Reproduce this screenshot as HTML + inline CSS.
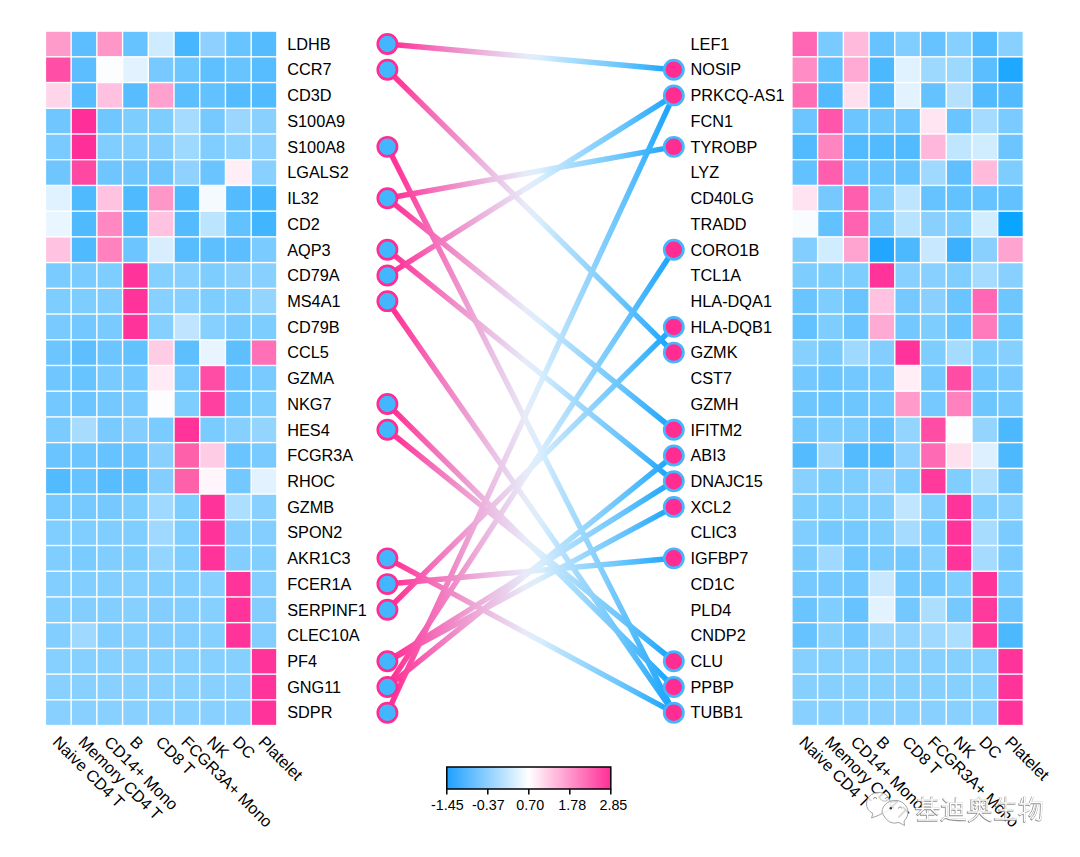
<!DOCTYPE html><html><head><meta charset="utf-8"><style>html,body{margin:0;padding:0;background:#fff;width:1080px;height:857px;overflow:hidden}svg{display:block}text{font-family:"Liberation Sans",sans-serif}</style></head><body>
<svg width="1080" height="857" viewBox="0 0 1080 857">
<defs><linearGradient id="lg" gradientUnits="userSpaceOnUse" x1="387.4" y1="0" x2="673.8" y2="0"><stop offset="0" stop-color="#FF2D95"/><stop offset="0.044" stop-color="#FF3A9A"/><stop offset="0.149" stop-color="#F56AB8"/><stop offset="0.253" stop-color="#EE95CC"/><stop offset="0.358" stop-color="#EBBDE2"/><stop offset="0.445" stop-color="#E8DCF2"/><stop offset="0.48" stop-color="#E8EAF8"/><stop offset="0.533" stop-color="#D8EEFC"/><stop offset="0.602" stop-color="#B8E2FC"/><stop offset="0.707" stop-color="#92D4FC"/><stop offset="0.812" stop-color="#6CC6FC"/><stop offset="0.916" stop-color="#3CB2FC"/><stop offset="0.969" stop-color="#22A8FC"/><stop offset="1" stop-color="#1AA4FF"/></linearGradient><linearGradient id="cb" x1="0" y1="0" x2="1" y2="0"><stop offset="0" stop-color="#1EA0FF"/><stop offset="0.5" stop-color="#FFFFFF"/><stop offset="1" stop-color="#FF2E98"/></linearGradient></defs>
<rect x="46.10" y="31.80" width="24.32" height="24.32" fill="#FF9BCB"/>
<rect x="71.82" y="31.80" width="24.32" height="24.32" fill="#5CBEFF"/>
<rect x="97.54" y="31.80" width="24.32" height="24.32" fill="#FF96C8"/>
<rect x="123.26" y="31.80" width="24.32" height="24.32" fill="#66C3FF"/>
<rect x="148.98" y="31.80" width="24.32" height="24.32" fill="#CFEBFF"/>
<rect x="174.70" y="31.80" width="24.32" height="24.32" fill="#45B6FF"/>
<rect x="200.42" y="31.80" width="24.32" height="24.32" fill="#8ED0FF"/>
<rect x="226.14" y="31.80" width="24.32" height="24.32" fill="#68C4FF"/>
<rect x="251.86" y="31.80" width="24.32" height="24.32" fill="#55BBFF"/>
<rect x="46.10" y="57.52" width="24.32" height="24.32" fill="#FF4EA5"/>
<rect x="71.82" y="57.52" width="24.32" height="24.32" fill="#5CBEFF"/>
<rect x="97.54" y="57.52" width="24.32" height="24.32" fill="#FCFDFF"/>
<rect x="123.26" y="57.52" width="24.32" height="24.32" fill="#E2F3FF"/>
<rect x="148.98" y="57.52" width="24.32" height="24.32" fill="#78C9FF"/>
<rect x="174.70" y="57.52" width="24.32" height="24.32" fill="#6EC6FF"/>
<rect x="200.42" y="57.52" width="24.32" height="24.32" fill="#5FC0FF"/>
<rect x="226.14" y="57.52" width="24.32" height="24.32" fill="#68C4FF"/>
<rect x="251.86" y="57.52" width="24.32" height="24.32" fill="#58BDFF"/>
<rect x="46.10" y="83.24" width="24.32" height="24.32" fill="#FFD5EA"/>
<rect x="71.82" y="83.24" width="24.32" height="24.32" fill="#58BDFF"/>
<rect x="97.54" y="83.24" width="24.32" height="24.32" fill="#FFC1E0"/>
<rect x="123.26" y="83.24" width="24.32" height="24.32" fill="#58BDFF"/>
<rect x="148.98" y="83.24" width="24.32" height="24.32" fill="#FFA0CF"/>
<rect x="174.70" y="83.24" width="24.32" height="24.32" fill="#5ABEFF"/>
<rect x="200.42" y="83.24" width="24.32" height="24.32" fill="#62C1FF"/>
<rect x="226.14" y="83.24" width="24.32" height="24.32" fill="#55BBFF"/>
<rect x="251.86" y="83.24" width="24.32" height="24.32" fill="#52BAFF"/>
<rect x="46.10" y="108.96" width="24.32" height="24.32" fill="#70C7FF"/>
<rect x="71.82" y="108.96" width="24.32" height="24.32" fill="#FF2E98"/>
<rect x="97.54" y="108.96" width="24.32" height="24.32" fill="#70C7FF"/>
<rect x="123.26" y="108.96" width="24.32" height="24.32" fill="#7ECDFF"/>
<rect x="148.98" y="108.96" width="24.32" height="24.32" fill="#7ECDFF"/>
<rect x="174.70" y="108.96" width="24.32" height="24.32" fill="#A5DBFF"/>
<rect x="200.42" y="108.96" width="24.32" height="24.32" fill="#75C9FF"/>
<rect x="226.14" y="108.96" width="24.32" height="24.32" fill="#9BD6FF"/>
<rect x="251.86" y="108.96" width="24.32" height="24.32" fill="#8AD0FF"/>
<rect x="46.10" y="134.68" width="24.32" height="24.32" fill="#78CAFF"/>
<rect x="71.82" y="134.68" width="24.32" height="24.32" fill="#FF2E98"/>
<rect x="97.54" y="134.68" width="24.32" height="24.32" fill="#80CDFF"/>
<rect x="123.26" y="134.68" width="24.32" height="24.32" fill="#82CEFF"/>
<rect x="148.98" y="134.68" width="24.32" height="24.32" fill="#84CEFF"/>
<rect x="174.70" y="134.68" width="24.32" height="24.32" fill="#9DD8FF"/>
<rect x="200.42" y="134.68" width="24.32" height="24.32" fill="#80CDFF"/>
<rect x="226.14" y="134.68" width="24.32" height="24.32" fill="#8ED2FF"/>
<rect x="251.86" y="134.68" width="24.32" height="24.32" fill="#8CD1FF"/>
<rect x="46.10" y="160.40" width="24.32" height="24.32" fill="#6FC6FF"/>
<rect x="71.82" y="160.40" width="24.32" height="24.32" fill="#FF48A2"/>
<rect x="97.54" y="160.40" width="24.32" height="24.32" fill="#6FC6FF"/>
<rect x="123.26" y="160.40" width="24.32" height="24.32" fill="#6FC6FF"/>
<rect x="148.98" y="160.40" width="24.32" height="24.32" fill="#6FC6FF"/>
<rect x="174.70" y="160.40" width="24.32" height="24.32" fill="#90D2FF"/>
<rect x="200.42" y="160.40" width="24.32" height="24.32" fill="#6AC4FF"/>
<rect x="226.14" y="160.40" width="24.32" height="24.32" fill="#FFEEF6"/>
<rect x="251.86" y="160.40" width="24.32" height="24.32" fill="#88D0FF"/>
<rect x="46.10" y="186.12" width="24.32" height="24.32" fill="#E0F2FF"/>
<rect x="71.82" y="186.12" width="24.32" height="24.32" fill="#50BAFF"/>
<rect x="97.54" y="186.12" width="24.32" height="24.32" fill="#FFC2E0"/>
<rect x="123.26" y="186.12" width="24.32" height="24.32" fill="#50BAFF"/>
<rect x="148.98" y="186.12" width="24.32" height="24.32" fill="#FF96C8"/>
<rect x="174.70" y="186.12" width="24.32" height="24.32" fill="#50BAFF"/>
<rect x="200.42" y="186.12" width="24.32" height="24.32" fill="#F5FAFF"/>
<rect x="226.14" y="186.12" width="24.32" height="24.32" fill="#55BBFF"/>
<rect x="251.86" y="186.12" width="24.32" height="24.32" fill="#46B6FF"/>
<rect x="46.10" y="211.84" width="24.32" height="24.32" fill="#EAF6FF"/>
<rect x="71.82" y="211.84" width="24.32" height="24.32" fill="#50BAFF"/>
<rect x="97.54" y="211.84" width="24.32" height="24.32" fill="#FF88C2"/>
<rect x="123.26" y="211.84" width="24.32" height="24.32" fill="#50BAFF"/>
<rect x="148.98" y="211.84" width="24.32" height="24.32" fill="#FFC2E0"/>
<rect x="174.70" y="211.84" width="24.32" height="24.32" fill="#55BBFF"/>
<rect x="200.42" y="211.84" width="24.32" height="24.32" fill="#BBE4FF"/>
<rect x="226.14" y="211.84" width="24.32" height="24.32" fill="#62C1FF"/>
<rect x="251.86" y="211.84" width="24.32" height="24.32" fill="#42B5FF"/>
<rect x="46.10" y="237.56" width="24.32" height="24.32" fill="#FFC2E0"/>
<rect x="71.82" y="237.56" width="24.32" height="24.32" fill="#50BAFF"/>
<rect x="97.54" y="237.56" width="24.32" height="24.32" fill="#FF82BF"/>
<rect x="123.26" y="237.56" width="24.32" height="24.32" fill="#6CC5FF"/>
<rect x="148.98" y="237.56" width="24.32" height="24.32" fill="#D8EEFF"/>
<rect x="174.70" y="237.56" width="24.32" height="24.32" fill="#58BDFF"/>
<rect x="200.42" y="237.56" width="24.32" height="24.32" fill="#5EBFFF"/>
<rect x="226.14" y="237.56" width="24.32" height="24.32" fill="#5CBEFF"/>
<rect x="251.86" y="237.56" width="24.32" height="24.32" fill="#7ACBFF"/>
<rect x="46.10" y="263.28" width="24.32" height="24.32" fill="#7ACBFF"/>
<rect x="71.82" y="263.28" width="24.32" height="24.32" fill="#7ACBFF"/>
<rect x="97.54" y="263.28" width="24.32" height="24.32" fill="#7ECDFF"/>
<rect x="123.26" y="263.28" width="24.32" height="24.32" fill="#FF3399"/>
<rect x="148.98" y="263.28" width="24.32" height="24.32" fill="#86D0FF"/>
<rect x="174.70" y="263.28" width="24.32" height="24.32" fill="#88D0FF"/>
<rect x="200.42" y="263.28" width="24.32" height="24.32" fill="#7ECDFF"/>
<rect x="226.14" y="263.28" width="24.32" height="24.32" fill="#8AD0FF"/>
<rect x="251.86" y="263.28" width="24.32" height="24.32" fill="#88D0FF"/>
<rect x="46.10" y="289.00" width="24.32" height="24.32" fill="#7ECDFF"/>
<rect x="71.82" y="289.00" width="24.32" height="24.32" fill="#7ECDFF"/>
<rect x="97.54" y="289.00" width="24.32" height="24.32" fill="#80CDFF"/>
<rect x="123.26" y="289.00" width="24.32" height="24.32" fill="#FF3399"/>
<rect x="148.98" y="289.00" width="24.32" height="24.32" fill="#88D0FF"/>
<rect x="174.70" y="289.00" width="24.32" height="24.32" fill="#88D0FF"/>
<rect x="200.42" y="289.00" width="24.32" height="24.32" fill="#7ECDFF"/>
<rect x="226.14" y="289.00" width="24.32" height="24.32" fill="#80CDFF"/>
<rect x="251.86" y="289.00" width="24.32" height="24.32" fill="#94D5FF"/>
<rect x="46.10" y="314.72" width="24.32" height="24.32" fill="#78CAFF"/>
<rect x="71.82" y="314.72" width="24.32" height="24.32" fill="#72C8FF"/>
<rect x="97.54" y="314.72" width="24.32" height="24.32" fill="#78CAFF"/>
<rect x="123.26" y="314.72" width="24.32" height="24.32" fill="#FF3399"/>
<rect x="148.98" y="314.72" width="24.32" height="24.32" fill="#86D0FF"/>
<rect x="174.70" y="314.72" width="24.32" height="24.32" fill="#BEE4FF"/>
<rect x="200.42" y="314.72" width="24.32" height="24.32" fill="#86D0FF"/>
<rect x="226.14" y="314.72" width="24.32" height="24.32" fill="#78CAFF"/>
<rect x="251.86" y="314.72" width="24.32" height="24.32" fill="#7ECDFF"/>
<rect x="46.10" y="340.44" width="24.32" height="24.32" fill="#6CC5FF"/>
<rect x="71.82" y="340.44" width="24.32" height="24.32" fill="#5EBFFF"/>
<rect x="97.54" y="340.44" width="24.32" height="24.32" fill="#6CC5FF"/>
<rect x="123.26" y="340.44" width="24.32" height="24.32" fill="#62C1FF"/>
<rect x="148.98" y="340.44" width="24.32" height="24.32" fill="#FFCCE6"/>
<rect x="174.70" y="340.44" width="24.32" height="24.32" fill="#5EBFFF"/>
<rect x="200.42" y="340.44" width="24.32" height="24.32" fill="#E8F5FF"/>
<rect x="226.14" y="340.44" width="24.32" height="24.32" fill="#5EBFFF"/>
<rect x="251.86" y="340.44" width="24.32" height="24.32" fill="#FF70B7"/>
<rect x="46.10" y="366.16" width="24.32" height="24.32" fill="#70C7FF"/>
<rect x="71.82" y="366.16" width="24.32" height="24.32" fill="#68C4FF"/>
<rect x="97.54" y="366.16" width="24.32" height="24.32" fill="#78CAFF"/>
<rect x="123.26" y="366.16" width="24.32" height="24.32" fill="#72C8FF"/>
<rect x="148.98" y="366.16" width="24.32" height="24.32" fill="#FFEBF5"/>
<rect x="174.70" y="366.16" width="24.32" height="24.32" fill="#76C9FF"/>
<rect x="200.42" y="366.16" width="24.32" height="24.32" fill="#FF4DA5"/>
<rect x="226.14" y="366.16" width="24.32" height="24.32" fill="#6AC4FF"/>
<rect x="251.86" y="366.16" width="24.32" height="24.32" fill="#78CAFF"/>
<rect x="46.10" y="391.88" width="24.32" height="24.32" fill="#72C8FF"/>
<rect x="71.82" y="391.88" width="24.32" height="24.32" fill="#6CC5FF"/>
<rect x="97.54" y="391.88" width="24.32" height="24.32" fill="#72C8FF"/>
<rect x="123.26" y="391.88" width="24.32" height="24.32" fill="#78CAFF"/>
<rect x="148.98" y="391.88" width="24.32" height="24.32" fill="#FDFDFF"/>
<rect x="174.70" y="391.88" width="24.32" height="24.32" fill="#7ECDFF"/>
<rect x="200.42" y="391.88" width="24.32" height="24.32" fill="#FF40A0"/>
<rect x="226.14" y="391.88" width="24.32" height="24.32" fill="#6CC5FF"/>
<rect x="251.86" y="391.88" width="24.32" height="24.32" fill="#7ECDFF"/>
<rect x="46.10" y="417.60" width="24.32" height="24.32" fill="#7ACBFF"/>
<rect x="71.82" y="417.60" width="24.32" height="24.32" fill="#A8DCFF"/>
<rect x="97.54" y="417.60" width="24.32" height="24.32" fill="#78CAFF"/>
<rect x="123.26" y="417.60" width="24.32" height="24.32" fill="#84CEFF"/>
<rect x="148.98" y="417.60" width="24.32" height="24.32" fill="#7ACBFF"/>
<rect x="174.70" y="417.60" width="24.32" height="24.32" fill="#FF3399"/>
<rect x="200.42" y="417.60" width="24.32" height="24.32" fill="#7ACBFF"/>
<rect x="226.14" y="417.60" width="24.32" height="24.32" fill="#86D0FF"/>
<rect x="251.86" y="417.60" width="24.32" height="24.32" fill="#94D5FF"/>
<rect x="46.10" y="443.32" width="24.32" height="24.32" fill="#6AC4FF"/>
<rect x="71.82" y="443.32" width="24.32" height="24.32" fill="#6CC5FF"/>
<rect x="97.54" y="443.32" width="24.32" height="24.32" fill="#66C3FF"/>
<rect x="123.26" y="443.32" width="24.32" height="24.32" fill="#6AC4FF"/>
<rect x="148.98" y="443.32" width="24.32" height="24.32" fill="#8AD0FF"/>
<rect x="174.70" y="443.32" width="24.32" height="24.32" fill="#FF60AA"/>
<rect x="200.42" y="443.32" width="24.32" height="24.32" fill="#FFCCE6"/>
<rect x="226.14" y="443.32" width="24.32" height="24.32" fill="#6AC4FF"/>
<rect x="251.86" y="443.32" width="24.32" height="24.32" fill="#78CAFF"/>
<rect x="46.10" y="469.04" width="24.32" height="24.32" fill="#52BAFF"/>
<rect x="71.82" y="469.04" width="24.32" height="24.32" fill="#66C3FF"/>
<rect x="97.54" y="469.04" width="24.32" height="24.32" fill="#58BDFF"/>
<rect x="123.26" y="469.04" width="24.32" height="24.32" fill="#5ABEFF"/>
<rect x="148.98" y="469.04" width="24.32" height="24.32" fill="#84CEFF"/>
<rect x="174.70" y="469.04" width="24.32" height="24.32" fill="#FF60AA"/>
<rect x="200.42" y="469.04" width="24.32" height="24.32" fill="#FFF5FA"/>
<rect x="226.14" y="469.04" width="24.32" height="24.32" fill="#72C8FF"/>
<rect x="251.86" y="469.04" width="24.32" height="24.32" fill="#E2F3FF"/>
<rect x="46.10" y="494.76" width="24.32" height="24.32" fill="#76C9FF"/>
<rect x="71.82" y="494.76" width="24.32" height="24.32" fill="#76C9FF"/>
<rect x="97.54" y="494.76" width="24.32" height="24.32" fill="#76C9FF"/>
<rect x="123.26" y="494.76" width="24.32" height="24.32" fill="#7ECDFF"/>
<rect x="148.98" y="494.76" width="24.32" height="24.32" fill="#A0D9FF"/>
<rect x="174.70" y="494.76" width="24.32" height="24.32" fill="#7ECDFF"/>
<rect x="200.42" y="494.76" width="24.32" height="24.32" fill="#FF3399"/>
<rect x="226.14" y="494.76" width="24.32" height="24.32" fill="#ABDEFF"/>
<rect x="251.86" y="494.76" width="24.32" height="24.32" fill="#88D0FF"/>
<rect x="46.10" y="520.48" width="24.32" height="24.32" fill="#80CDFF"/>
<rect x="71.82" y="520.48" width="24.32" height="24.32" fill="#80CDFF"/>
<rect x="97.54" y="520.48" width="24.32" height="24.32" fill="#80CDFF"/>
<rect x="123.26" y="520.48" width="24.32" height="24.32" fill="#80CDFF"/>
<rect x="148.98" y="520.48" width="24.32" height="24.32" fill="#A0D9FF"/>
<rect x="174.70" y="520.48" width="24.32" height="24.32" fill="#80CDFF"/>
<rect x="200.42" y="520.48" width="24.32" height="24.32" fill="#FF3399"/>
<rect x="226.14" y="520.48" width="24.32" height="24.32" fill="#84CEFF"/>
<rect x="251.86" y="520.48" width="24.32" height="24.32" fill="#84CEFF"/>
<rect x="46.10" y="546.20" width="24.32" height="24.32" fill="#80CDFF"/>
<rect x="71.82" y="546.20" width="24.32" height="24.32" fill="#7ACBFF"/>
<rect x="97.54" y="546.20" width="24.32" height="24.32" fill="#80CDFF"/>
<rect x="123.26" y="546.20" width="24.32" height="24.32" fill="#7ECDFF"/>
<rect x="148.98" y="546.20" width="24.32" height="24.32" fill="#94D5FF"/>
<rect x="174.70" y="546.20" width="24.32" height="24.32" fill="#80CDFF"/>
<rect x="200.42" y="546.20" width="24.32" height="24.32" fill="#FF3399"/>
<rect x="226.14" y="546.20" width="24.32" height="24.32" fill="#84CEFF"/>
<rect x="251.86" y="546.20" width="24.32" height="24.32" fill="#82CEFF"/>
<rect x="46.10" y="571.92" width="24.32" height="24.32" fill="#82CEFF"/>
<rect x="71.82" y="571.92" width="24.32" height="24.32" fill="#82CEFF"/>
<rect x="97.54" y="571.92" width="24.32" height="24.32" fill="#82CEFF"/>
<rect x="123.26" y="571.92" width="24.32" height="24.32" fill="#86D0FF"/>
<rect x="148.98" y="571.92" width="24.32" height="24.32" fill="#82CEFF"/>
<rect x="174.70" y="571.92" width="24.32" height="24.32" fill="#82CEFF"/>
<rect x="200.42" y="571.92" width="24.32" height="24.32" fill="#88D0FF"/>
<rect x="226.14" y="571.92" width="24.32" height="24.32" fill="#FF3399"/>
<rect x="251.86" y="571.92" width="24.32" height="24.32" fill="#84CEFF"/>
<rect x="46.10" y="597.64" width="24.32" height="24.32" fill="#82CEFF"/>
<rect x="71.82" y="597.64" width="24.32" height="24.32" fill="#84CEFF"/>
<rect x="97.54" y="597.64" width="24.32" height="24.32" fill="#82CEFF"/>
<rect x="123.26" y="597.64" width="24.32" height="24.32" fill="#86D0FF"/>
<rect x="148.98" y="597.64" width="24.32" height="24.32" fill="#84CEFF"/>
<rect x="174.70" y="597.64" width="24.32" height="24.32" fill="#84CEFF"/>
<rect x="200.42" y="597.64" width="24.32" height="24.32" fill="#86D0FF"/>
<rect x="226.14" y="597.64" width="24.32" height="24.32" fill="#FF3399"/>
<rect x="251.86" y="597.64" width="24.32" height="24.32" fill="#84CEFF"/>
<rect x="46.10" y="623.36" width="24.32" height="24.32" fill="#82CEFF"/>
<rect x="71.82" y="623.36" width="24.32" height="24.32" fill="#A0D9FF"/>
<rect x="97.54" y="623.36" width="24.32" height="24.32" fill="#82CEFF"/>
<rect x="123.26" y="623.36" width="24.32" height="24.32" fill="#86D0FF"/>
<rect x="148.98" y="623.36" width="24.32" height="24.32" fill="#84CEFF"/>
<rect x="174.70" y="623.36" width="24.32" height="24.32" fill="#84CEFF"/>
<rect x="200.42" y="623.36" width="24.32" height="24.32" fill="#86D0FF"/>
<rect x="226.14" y="623.36" width="24.32" height="24.32" fill="#FF3399"/>
<rect x="251.86" y="623.36" width="24.32" height="24.32" fill="#84CEFF"/>
<rect x="46.10" y="649.08" width="24.32" height="24.32" fill="#86D0FF"/>
<rect x="71.82" y="649.08" width="24.32" height="24.32" fill="#86D0FF"/>
<rect x="97.54" y="649.08" width="24.32" height="24.32" fill="#86D0FF"/>
<rect x="123.26" y="649.08" width="24.32" height="24.32" fill="#86D0FF"/>
<rect x="148.98" y="649.08" width="24.32" height="24.32" fill="#86D0FF"/>
<rect x="174.70" y="649.08" width="24.32" height="24.32" fill="#86D0FF"/>
<rect x="200.42" y="649.08" width="24.32" height="24.32" fill="#86D0FF"/>
<rect x="226.14" y="649.08" width="24.32" height="24.32" fill="#86D0FF"/>
<rect x="251.86" y="649.08" width="24.32" height="24.32" fill="#FF3399"/>
<rect x="46.10" y="674.80" width="24.32" height="24.32" fill="#88D0FF"/>
<rect x="71.82" y="674.80" width="24.32" height="24.32" fill="#88D0FF"/>
<rect x="97.54" y="674.80" width="24.32" height="24.32" fill="#88D0FF"/>
<rect x="123.26" y="674.80" width="24.32" height="24.32" fill="#88D0FF"/>
<rect x="148.98" y="674.80" width="24.32" height="24.32" fill="#88D0FF"/>
<rect x="174.70" y="674.80" width="24.32" height="24.32" fill="#88D0FF"/>
<rect x="200.42" y="674.80" width="24.32" height="24.32" fill="#88D0FF"/>
<rect x="226.14" y="674.80" width="24.32" height="24.32" fill="#88D0FF"/>
<rect x="251.86" y="674.80" width="24.32" height="24.32" fill="#FF3399"/>
<rect x="46.10" y="700.52" width="24.32" height="24.32" fill="#88D0FF"/>
<rect x="71.82" y="700.52" width="24.32" height="24.32" fill="#88D0FF"/>
<rect x="97.54" y="700.52" width="24.32" height="24.32" fill="#88D0FF"/>
<rect x="123.26" y="700.52" width="24.32" height="24.32" fill="#88D0FF"/>
<rect x="148.98" y="700.52" width="24.32" height="24.32" fill="#88D0FF"/>
<rect x="174.70" y="700.52" width="24.32" height="24.32" fill="#88D0FF"/>
<rect x="200.42" y="700.52" width="24.32" height="24.32" fill="#88D0FF"/>
<rect x="226.14" y="700.52" width="24.32" height="24.32" fill="#88D0FF"/>
<rect x="251.86" y="700.52" width="24.32" height="24.32" fill="#FF3399"/>
<rect x="792.60" y="31.80" width="24.32" height="24.32" fill="#FF66B3"/>
<rect x="818.32" y="31.80" width="24.32" height="24.32" fill="#78CAFF"/>
<rect x="844.04" y="31.80" width="24.32" height="24.32" fill="#FFBADC"/>
<rect x="869.76" y="31.80" width="24.32" height="24.32" fill="#66C3FF"/>
<rect x="895.48" y="31.80" width="24.32" height="24.32" fill="#80CDFF"/>
<rect x="921.20" y="31.80" width="24.32" height="24.32" fill="#66C3FF"/>
<rect x="946.92" y="31.80" width="24.32" height="24.32" fill="#86D0FF"/>
<rect x="972.64" y="31.80" width="24.32" height="24.32" fill="#52BAFF"/>
<rect x="998.36" y="31.80" width="24.32" height="24.32" fill="#88D0FF"/>
<rect x="792.60" y="57.52" width="24.32" height="24.32" fill="#FF8CC4"/>
<rect x="818.32" y="57.52" width="24.32" height="24.32" fill="#62C1FF"/>
<rect x="844.04" y="57.52" width="24.32" height="24.32" fill="#FFAAD4"/>
<rect x="869.76" y="57.52" width="24.32" height="24.32" fill="#4CB9FF"/>
<rect x="895.48" y="57.52" width="24.32" height="24.32" fill="#E0F2FF"/>
<rect x="921.20" y="57.52" width="24.32" height="24.32" fill="#9DD8FF"/>
<rect x="946.92" y="57.52" width="24.32" height="24.32" fill="#9DD8FF"/>
<rect x="972.64" y="57.52" width="24.32" height="24.32" fill="#5ABEFF"/>
<rect x="998.36" y="57.52" width="24.32" height="24.32" fill="#1EA8FF"/>
<rect x="792.60" y="83.24" width="24.32" height="24.32" fill="#FF6EB5"/>
<rect x="818.32" y="83.24" width="24.32" height="24.32" fill="#52BAFF"/>
<rect x="844.04" y="83.24" width="24.32" height="24.32" fill="#FFE0EF"/>
<rect x="869.76" y="83.24" width="24.32" height="24.32" fill="#55BBFF"/>
<rect x="895.48" y="83.24" width="24.32" height="24.32" fill="#E2F3FF"/>
<rect x="921.20" y="83.24" width="24.32" height="24.32" fill="#64C2FF"/>
<rect x="946.92" y="83.24" width="24.32" height="24.32" fill="#B5E1FF"/>
<rect x="972.64" y="83.24" width="24.32" height="24.32" fill="#52BAFF"/>
<rect x="998.36" y="83.24" width="24.32" height="24.32" fill="#52BAFF"/>
<rect x="792.60" y="108.96" width="24.32" height="24.32" fill="#6CC5FF"/>
<rect x="818.32" y="108.96" width="24.32" height="24.32" fill="#FF55AA"/>
<rect x="844.04" y="108.96" width="24.32" height="24.32" fill="#6CC5FF"/>
<rect x="869.76" y="108.96" width="24.32" height="24.32" fill="#6CC5FF"/>
<rect x="895.48" y="108.96" width="24.32" height="24.32" fill="#6CC5FF"/>
<rect x="921.20" y="108.96" width="24.32" height="24.32" fill="#FFE5F2"/>
<rect x="946.92" y="108.96" width="24.32" height="24.32" fill="#6AC4FF"/>
<rect x="972.64" y="108.96" width="24.32" height="24.32" fill="#A5DBFF"/>
<rect x="998.36" y="108.96" width="24.32" height="24.32" fill="#7ACBFF"/>
<rect x="792.60" y="134.68" width="24.32" height="24.32" fill="#52BAFF"/>
<rect x="818.32" y="134.68" width="24.32" height="24.32" fill="#FF85C0"/>
<rect x="844.04" y="134.68" width="24.32" height="24.32" fill="#52BAFF"/>
<rect x="869.76" y="134.68" width="24.32" height="24.32" fill="#52BAFF"/>
<rect x="895.48" y="134.68" width="24.32" height="24.32" fill="#52BAFF"/>
<rect x="921.20" y="134.68" width="24.32" height="24.32" fill="#FFB8DC"/>
<rect x="946.92" y="134.68" width="24.32" height="24.32" fill="#C0E6FF"/>
<rect x="972.64" y="134.68" width="24.32" height="24.32" fill="#D0ECFF"/>
<rect x="998.36" y="134.68" width="24.32" height="24.32" fill="#6CC5FF"/>
<rect x="792.60" y="160.40" width="24.32" height="24.32" fill="#62C1FF"/>
<rect x="818.32" y="160.40" width="24.32" height="24.32" fill="#FF5EAE"/>
<rect x="844.04" y="160.40" width="24.32" height="24.32" fill="#66C3FF"/>
<rect x="869.76" y="160.40" width="24.32" height="24.32" fill="#66C3FF"/>
<rect x="895.48" y="160.40" width="24.32" height="24.32" fill="#66C3FF"/>
<rect x="921.20" y="160.40" width="24.32" height="24.32" fill="#A0D9FF"/>
<rect x="946.92" y="160.40" width="24.32" height="24.32" fill="#60C0FF"/>
<rect x="972.64" y="160.40" width="24.32" height="24.32" fill="#FFBADC"/>
<rect x="998.36" y="160.40" width="24.32" height="24.32" fill="#7ECDFF"/>
<rect x="792.60" y="186.12" width="24.32" height="24.32" fill="#FFE3F1"/>
<rect x="818.32" y="186.12" width="24.32" height="24.32" fill="#75C9FF"/>
<rect x="844.04" y="186.12" width="24.32" height="24.32" fill="#FF5EAE"/>
<rect x="869.76" y="186.12" width="24.32" height="24.32" fill="#7ECDFF"/>
<rect x="895.48" y="186.12" width="24.32" height="24.32" fill="#BDE5FF"/>
<rect x="921.20" y="186.12" width="24.32" height="24.32" fill="#66C3FF"/>
<rect x="946.92" y="186.12" width="24.32" height="24.32" fill="#62C1FF"/>
<rect x="972.64" y="186.12" width="24.32" height="24.32" fill="#66C3FF"/>
<rect x="998.36" y="186.12" width="24.32" height="24.32" fill="#62C1FF"/>
<rect x="792.60" y="211.84" width="24.32" height="24.32" fill="#F8FCFF"/>
<rect x="818.32" y="211.84" width="24.32" height="24.32" fill="#62C1FF"/>
<rect x="844.04" y="211.84" width="24.32" height="24.32" fill="#FF62B0"/>
<rect x="869.76" y="211.84" width="24.32" height="24.32" fill="#72C8FF"/>
<rect x="895.48" y="211.84" width="24.32" height="24.32" fill="#B8E3FF"/>
<rect x="921.20" y="211.84" width="24.32" height="24.32" fill="#8AD0FF"/>
<rect x="946.92" y="211.84" width="24.32" height="24.32" fill="#80CDFF"/>
<rect x="972.64" y="211.84" width="24.32" height="24.32" fill="#D2EDFF"/>
<rect x="998.36" y="211.84" width="24.32" height="24.32" fill="#0AA5FF"/>
<rect x="792.60" y="237.56" width="24.32" height="24.32" fill="#82CEFF"/>
<rect x="818.32" y="237.56" width="24.32" height="24.32" fill="#D0ECFF"/>
<rect x="844.04" y="237.56" width="24.32" height="24.32" fill="#FFA4D1"/>
<rect x="869.76" y="237.56" width="24.32" height="24.32" fill="#22A6FF"/>
<rect x="895.48" y="237.56" width="24.32" height="24.32" fill="#4CB9FF"/>
<rect x="921.20" y="237.56" width="24.32" height="24.32" fill="#C8E8FF"/>
<rect x="946.92" y="237.56" width="24.32" height="24.32" fill="#3AB0FF"/>
<rect x="972.64" y="237.56" width="24.32" height="24.32" fill="#8AD0FF"/>
<rect x="998.36" y="237.56" width="24.32" height="24.32" fill="#FFA4D1"/>
<rect x="792.60" y="263.28" width="24.32" height="24.32" fill="#7ECDFF"/>
<rect x="818.32" y="263.28" width="24.32" height="24.32" fill="#7ECDFF"/>
<rect x="844.04" y="263.28" width="24.32" height="24.32" fill="#7ECDFF"/>
<rect x="869.76" y="263.28" width="24.32" height="24.32" fill="#FF3399"/>
<rect x="895.48" y="263.28" width="24.32" height="24.32" fill="#88D0FF"/>
<rect x="921.20" y="263.28" width="24.32" height="24.32" fill="#88D0FF"/>
<rect x="946.92" y="263.28" width="24.32" height="24.32" fill="#80CDFF"/>
<rect x="972.64" y="263.28" width="24.32" height="24.32" fill="#A5DBFF"/>
<rect x="998.36" y="263.28" width="24.32" height="24.32" fill="#88D0FF"/>
<rect x="792.60" y="289.00" width="24.32" height="24.32" fill="#6AC4FF"/>
<rect x="818.32" y="289.00" width="24.32" height="24.32" fill="#7ECDFF"/>
<rect x="844.04" y="289.00" width="24.32" height="24.32" fill="#6AC4FF"/>
<rect x="869.76" y="289.00" width="24.32" height="24.32" fill="#FFC2E0"/>
<rect x="895.48" y="289.00" width="24.32" height="24.32" fill="#76C9FF"/>
<rect x="921.20" y="289.00" width="24.32" height="24.32" fill="#8AD0FF"/>
<rect x="946.92" y="289.00" width="24.32" height="24.32" fill="#6AC4FF"/>
<rect x="972.64" y="289.00" width="24.32" height="24.32" fill="#FF66B3"/>
<rect x="998.36" y="289.00" width="24.32" height="24.32" fill="#6EC6FF"/>
<rect x="792.60" y="314.72" width="24.32" height="24.32" fill="#62C1FF"/>
<rect x="818.32" y="314.72" width="24.32" height="24.32" fill="#7ECDFF"/>
<rect x="844.04" y="314.72" width="24.32" height="24.32" fill="#6AC4FF"/>
<rect x="869.76" y="314.72" width="24.32" height="24.32" fill="#FFAAD4"/>
<rect x="895.48" y="314.72" width="24.32" height="24.32" fill="#72C8FF"/>
<rect x="921.20" y="314.72" width="24.32" height="24.32" fill="#7ECDFF"/>
<rect x="946.92" y="314.72" width="24.32" height="24.32" fill="#6AC4FF"/>
<rect x="972.64" y="314.72" width="24.32" height="24.32" fill="#FF7ABD"/>
<rect x="998.36" y="314.72" width="24.32" height="24.32" fill="#6EC6FF"/>
<rect x="792.60" y="340.44" width="24.32" height="24.32" fill="#86D0FF"/>
<rect x="818.32" y="340.44" width="24.32" height="24.32" fill="#78CAFF"/>
<rect x="844.04" y="340.44" width="24.32" height="24.32" fill="#A0D9FF"/>
<rect x="869.76" y="340.44" width="24.32" height="24.32" fill="#84CEFF"/>
<rect x="895.48" y="340.44" width="24.32" height="24.32" fill="#FF3399"/>
<rect x="921.20" y="340.44" width="24.32" height="24.32" fill="#7ECDFF"/>
<rect x="946.92" y="340.44" width="24.32" height="24.32" fill="#A5DBFF"/>
<rect x="972.64" y="340.44" width="24.32" height="24.32" fill="#7ECDFF"/>
<rect x="998.36" y="340.44" width="24.32" height="24.32" fill="#86D0FF"/>
<rect x="792.60" y="366.16" width="24.32" height="24.32" fill="#72C8FF"/>
<rect x="818.32" y="366.16" width="24.32" height="24.32" fill="#6CC5FF"/>
<rect x="844.04" y="366.16" width="24.32" height="24.32" fill="#72C8FF"/>
<rect x="869.76" y="366.16" width="24.32" height="24.32" fill="#76C9FF"/>
<rect x="895.48" y="366.16" width="24.32" height="24.32" fill="#FFEEF6"/>
<rect x="921.20" y="366.16" width="24.32" height="24.32" fill="#76C9FF"/>
<rect x="946.92" y="366.16" width="24.32" height="24.32" fill="#FF4DA5"/>
<rect x="972.64" y="366.16" width="24.32" height="24.32" fill="#72C8FF"/>
<rect x="998.36" y="366.16" width="24.32" height="24.32" fill="#78CAFF"/>
<rect x="792.60" y="391.88" width="24.32" height="24.32" fill="#6EC6FF"/>
<rect x="818.32" y="391.88" width="24.32" height="24.32" fill="#6AC4FF"/>
<rect x="844.04" y="391.88" width="24.32" height="24.32" fill="#6EC6FF"/>
<rect x="869.76" y="391.88" width="24.32" height="24.32" fill="#72C8FF"/>
<rect x="895.48" y="391.88" width="24.32" height="24.32" fill="#FF9ACB"/>
<rect x="921.20" y="391.88" width="24.32" height="24.32" fill="#76C9FF"/>
<rect x="946.92" y="391.88" width="24.32" height="24.32" fill="#FF82BF"/>
<rect x="972.64" y="391.88" width="24.32" height="24.32" fill="#6EC6FF"/>
<rect x="998.36" y="391.88" width="24.32" height="24.32" fill="#72C8FF"/>
<rect x="792.60" y="417.60" width="24.32" height="24.32" fill="#72C8FF"/>
<rect x="818.32" y="417.60" width="24.32" height="24.32" fill="#7ECDFF"/>
<rect x="844.04" y="417.60" width="24.32" height="24.32" fill="#7ACBFF"/>
<rect x="869.76" y="417.60" width="24.32" height="24.32" fill="#66C3FF"/>
<rect x="895.48" y="417.60" width="24.32" height="24.32" fill="#94D5FF"/>
<rect x="921.20" y="417.60" width="24.32" height="24.32" fill="#FF4DA5"/>
<rect x="946.92" y="417.60" width="24.32" height="24.32" fill="#FCFDFF"/>
<rect x="972.64" y="417.60" width="24.32" height="24.32" fill="#94D5FF"/>
<rect x="998.36" y="417.60" width="24.32" height="24.32" fill="#4CB9FF"/>
<rect x="792.60" y="443.32" width="24.32" height="24.32" fill="#55BBFF"/>
<rect x="818.32" y="443.32" width="24.32" height="24.32" fill="#96D5FF"/>
<rect x="844.04" y="443.32" width="24.32" height="24.32" fill="#55BBFF"/>
<rect x="869.76" y="443.32" width="24.32" height="24.32" fill="#52BAFF"/>
<rect x="895.48" y="443.32" width="24.32" height="24.32" fill="#90D2FF"/>
<rect x="921.20" y="443.32" width="24.32" height="24.32" fill="#FF6AB5"/>
<rect x="946.92" y="443.32" width="24.32" height="24.32" fill="#FFE0EF"/>
<rect x="972.64" y="443.32" width="24.32" height="24.32" fill="#DCF0FF"/>
<rect x="998.36" y="443.32" width="24.32" height="24.32" fill="#4CB9FF"/>
<rect x="792.60" y="469.04" width="24.32" height="24.32" fill="#88D0FF"/>
<rect x="818.32" y="469.04" width="24.32" height="24.32" fill="#7ECDFF"/>
<rect x="844.04" y="469.04" width="24.32" height="24.32" fill="#7ECDFF"/>
<rect x="869.76" y="469.04" width="24.32" height="24.32" fill="#90D2FF"/>
<rect x="895.48" y="469.04" width="24.32" height="24.32" fill="#80CDFF"/>
<rect x="921.20" y="469.04" width="24.32" height="24.32" fill="#FF3A9C"/>
<rect x="946.92" y="469.04" width="24.32" height="24.32" fill="#80CDFF"/>
<rect x="972.64" y="469.04" width="24.32" height="24.32" fill="#B0E0FF"/>
<rect x="998.36" y="469.04" width="24.32" height="24.32" fill="#66C3FF"/>
<rect x="792.60" y="494.76" width="24.32" height="24.32" fill="#7ECDFF"/>
<rect x="818.32" y="494.76" width="24.32" height="24.32" fill="#7ECDFF"/>
<rect x="844.04" y="494.76" width="24.32" height="24.32" fill="#80CDFF"/>
<rect x="869.76" y="494.76" width="24.32" height="24.32" fill="#82CEFF"/>
<rect x="895.48" y="494.76" width="24.32" height="24.32" fill="#C0E6FF"/>
<rect x="921.20" y="494.76" width="24.32" height="24.32" fill="#84CEFF"/>
<rect x="946.92" y="494.76" width="24.32" height="24.32" fill="#FF3399"/>
<rect x="972.64" y="494.76" width="24.32" height="24.32" fill="#82CEFF"/>
<rect x="998.36" y="494.76" width="24.32" height="24.32" fill="#88D0FF"/>
<rect x="792.60" y="520.48" width="24.32" height="24.32" fill="#80CDFF"/>
<rect x="818.32" y="520.48" width="24.32" height="24.32" fill="#76C9FF"/>
<rect x="844.04" y="520.48" width="24.32" height="24.32" fill="#76C9FF"/>
<rect x="869.76" y="520.48" width="24.32" height="24.32" fill="#7ECDFF"/>
<rect x="895.48" y="520.48" width="24.32" height="24.32" fill="#A5DBFF"/>
<rect x="921.20" y="520.48" width="24.32" height="24.32" fill="#7ACBFF"/>
<rect x="946.92" y="520.48" width="24.32" height="24.32" fill="#FF3399"/>
<rect x="972.64" y="520.48" width="24.32" height="24.32" fill="#A8DCFF"/>
<rect x="998.36" y="520.48" width="24.32" height="24.32" fill="#7ACBFF"/>
<rect x="792.60" y="546.20" width="24.32" height="24.32" fill="#78CAFF"/>
<rect x="818.32" y="546.20" width="24.32" height="24.32" fill="#A0D9FF"/>
<rect x="844.04" y="546.20" width="24.32" height="24.32" fill="#70C7FF"/>
<rect x="869.76" y="546.20" width="24.32" height="24.32" fill="#78CAFF"/>
<rect x="895.48" y="546.20" width="24.32" height="24.32" fill="#72C8FF"/>
<rect x="921.20" y="546.20" width="24.32" height="24.32" fill="#86D0FF"/>
<rect x="946.92" y="546.20" width="24.32" height="24.32" fill="#FF3399"/>
<rect x="972.64" y="546.20" width="24.32" height="24.32" fill="#A5DBFF"/>
<rect x="998.36" y="546.20" width="24.32" height="24.32" fill="#7ACBFF"/>
<rect x="792.60" y="571.92" width="24.32" height="24.32" fill="#76C9FF"/>
<rect x="818.32" y="571.92" width="24.32" height="24.32" fill="#76C9FF"/>
<rect x="844.04" y="571.92" width="24.32" height="24.32" fill="#70C7FF"/>
<rect x="869.76" y="571.92" width="24.32" height="24.32" fill="#C8E8FF"/>
<rect x="895.48" y="571.92" width="24.32" height="24.32" fill="#72C8FF"/>
<rect x="921.20" y="571.92" width="24.32" height="24.32" fill="#72C8FF"/>
<rect x="946.92" y="571.92" width="24.32" height="24.32" fill="#80CDFF"/>
<rect x="972.64" y="571.92" width="24.32" height="24.32" fill="#FF3399"/>
<rect x="998.36" y="571.92" width="24.32" height="24.32" fill="#7ACBFF"/>
<rect x="792.60" y="597.64" width="24.32" height="24.32" fill="#6AC4FF"/>
<rect x="818.32" y="597.64" width="24.32" height="24.32" fill="#80CDFF"/>
<rect x="844.04" y="597.64" width="24.32" height="24.32" fill="#66C3FF"/>
<rect x="869.76" y="597.64" width="24.32" height="24.32" fill="#E2F3FF"/>
<rect x="895.48" y="597.64" width="24.32" height="24.32" fill="#72C8FF"/>
<rect x="921.20" y="597.64" width="24.32" height="24.32" fill="#ACDEFF"/>
<rect x="946.92" y="597.64" width="24.32" height="24.32" fill="#76C9FF"/>
<rect x="972.64" y="597.64" width="24.32" height="24.32" fill="#FF3A9C"/>
<rect x="998.36" y="597.64" width="24.32" height="24.32" fill="#6CC5FF"/>
<rect x="792.60" y="623.36" width="24.32" height="24.32" fill="#66C3FF"/>
<rect x="818.32" y="623.36" width="24.32" height="24.32" fill="#86D0FF"/>
<rect x="844.04" y="623.36" width="24.32" height="24.32" fill="#72C8FF"/>
<rect x="869.76" y="623.36" width="24.32" height="24.32" fill="#98D6FF"/>
<rect x="895.48" y="623.36" width="24.32" height="24.32" fill="#94D5FF"/>
<rect x="921.20" y="623.36" width="24.32" height="24.32" fill="#A0D9FF"/>
<rect x="946.92" y="623.36" width="24.32" height="24.32" fill="#ACDEFF"/>
<rect x="972.64" y="623.36" width="24.32" height="24.32" fill="#FF3A9C"/>
<rect x="998.36" y="623.36" width="24.32" height="24.32" fill="#4CB9FF"/>
<rect x="792.60" y="649.08" width="24.32" height="24.32" fill="#86D0FF"/>
<rect x="818.32" y="649.08" width="24.32" height="24.32" fill="#86D0FF"/>
<rect x="844.04" y="649.08" width="24.32" height="24.32" fill="#86D0FF"/>
<rect x="869.76" y="649.08" width="24.32" height="24.32" fill="#86D0FF"/>
<rect x="895.48" y="649.08" width="24.32" height="24.32" fill="#86D0FF"/>
<rect x="921.20" y="649.08" width="24.32" height="24.32" fill="#86D0FF"/>
<rect x="946.92" y="649.08" width="24.32" height="24.32" fill="#86D0FF"/>
<rect x="972.64" y="649.08" width="24.32" height="24.32" fill="#86D0FF"/>
<rect x="998.36" y="649.08" width="24.32" height="24.32" fill="#FF3399"/>
<rect x="792.60" y="674.80" width="24.32" height="24.32" fill="#86D0FF"/>
<rect x="818.32" y="674.80" width="24.32" height="24.32" fill="#86D0FF"/>
<rect x="844.04" y="674.80" width="24.32" height="24.32" fill="#86D0FF"/>
<rect x="869.76" y="674.80" width="24.32" height="24.32" fill="#86D0FF"/>
<rect x="895.48" y="674.80" width="24.32" height="24.32" fill="#86D0FF"/>
<rect x="921.20" y="674.80" width="24.32" height="24.32" fill="#86D0FF"/>
<rect x="946.92" y="674.80" width="24.32" height="24.32" fill="#86D0FF"/>
<rect x="972.64" y="674.80" width="24.32" height="24.32" fill="#86D0FF"/>
<rect x="998.36" y="674.80" width="24.32" height="24.32" fill="#FF3399"/>
<rect x="792.60" y="700.52" width="24.32" height="24.32" fill="#88D0FF"/>
<rect x="818.32" y="700.52" width="24.32" height="24.32" fill="#88D0FF"/>
<rect x="844.04" y="700.52" width="24.32" height="24.32" fill="#88D0FF"/>
<rect x="869.76" y="700.52" width="24.32" height="24.32" fill="#88D0FF"/>
<rect x="895.48" y="700.52" width="24.32" height="24.32" fill="#88D0FF"/>
<rect x="921.20" y="700.52" width="24.32" height="24.32" fill="#88D0FF"/>
<rect x="946.92" y="700.52" width="24.32" height="24.32" fill="#88D0FF"/>
<rect x="972.64" y="700.52" width="24.32" height="24.32" fill="#88D0FF"/>
<rect x="998.36" y="700.52" width="24.32" height="24.32" fill="#FF3399"/>
<g font-size="16.3" fill="#000">
<text x="287.2" y="49.76">LDHB</text>
<text x="287.2" y="75.48">CCR7</text>
<text x="287.2" y="101.20">CD3D</text>
<text x="287.2" y="126.92">S100A9</text>
<text x="287.2" y="152.64">S100A8</text>
<text x="287.2" y="178.36">LGALS2</text>
<text x="287.2" y="204.08">IL32</text>
<text x="287.2" y="229.80">CD2</text>
<text x="287.2" y="255.52">AQP3</text>
<text x="287.2" y="281.24">CD79A</text>
<text x="287.2" y="306.96">MS4A1</text>
<text x="287.2" y="332.68">CD79B</text>
<text x="287.2" y="358.40">CCL5</text>
<text x="287.2" y="384.12">GZMA</text>
<text x="287.2" y="409.84">NKG7</text>
<text x="287.2" y="435.56">HES4</text>
<text x="287.2" y="461.28">FCGR3A</text>
<text x="287.2" y="487.00">RHOC</text>
<text x="287.2" y="512.72">GZMB</text>
<text x="287.2" y="538.44">SPON2</text>
<text x="287.2" y="564.16">AKR1C3</text>
<text x="287.2" y="589.88">FCER1A</text>
<text x="287.2" y="615.60">SERPINF1</text>
<text x="287.2" y="641.32">CLEC10A</text>
<text x="287.2" y="667.04">PF4</text>
<text x="287.2" y="692.76">GNG11</text>
<text x="287.2" y="718.48">SDPR</text>
<text x="690.5" y="49.76">LEF1</text>
<text x="690.5" y="75.48">NOSIP</text>
<text x="690.5" y="101.20">PRKCQ-AS1</text>
<text x="690.5" y="126.92">FCN1</text>
<text x="690.5" y="152.64">TYROBP</text>
<text x="690.5" y="178.36">LYZ</text>
<text x="690.5" y="204.08">CD40LG</text>
<text x="690.5" y="229.80">TRADD</text>
<text x="690.5" y="255.52">CORO1B</text>
<text x="690.5" y="281.24">TCL1A</text>
<text x="690.5" y="306.96">HLA-DQA1</text>
<text x="690.5" y="332.68">HLA-DQB1</text>
<text x="690.5" y="358.40">GZMK</text>
<text x="690.5" y="384.12">CST7</text>
<text x="690.5" y="409.84">GZMH</text>
<text x="690.5" y="435.56">IFITM2</text>
<text x="690.5" y="461.28">ABI3</text>
<text x="690.5" y="487.00">DNAJC15</text>
<text x="690.5" y="512.72">XCL2</text>
<text x="690.5" y="538.44">CLIC3</text>
<text x="690.5" y="564.16">IGFBP7</text>
<text x="690.5" y="589.88">CD1C</text>
<text x="690.5" y="615.60">PLD4</text>
<text x="690.5" y="641.32">CNDP2</text>
<text x="690.5" y="667.04">CLU</text>
<text x="690.5" y="692.76">PPBP</text>
<text x="690.5" y="718.48">TUBB1</text>
</g>
<g stroke="url(#lg)" stroke-width="5.5" fill="none">
<line x1="387.4" y1="43.96" x2="673.8" y2="69.68"/>
<line x1="387.4" y1="69.68" x2="673.8" y2="352.60"/>
<line x1="387.4" y1="146.84" x2="673.8" y2="712.68"/>
<line x1="387.4" y1="198.28" x2="673.8" y2="146.84"/>
<line x1="387.4" y1="198.28" x2="673.8" y2="429.76"/>
<line x1="387.4" y1="249.72" x2="673.8" y2="481.20"/>
<line x1="387.4" y1="275.44" x2="673.8" y2="95.40"/>
<line x1="387.4" y1="301.16" x2="673.8" y2="712.68"/>
<line x1="387.4" y1="404.04" x2="673.8" y2="686.96"/>
<line x1="387.4" y1="429.76" x2="673.8" y2="661.24"/>
<line x1="387.4" y1="558.36" x2="673.8" y2="712.68"/>
<line x1="387.4" y1="584.08" x2="673.8" y2="558.36"/>
<line x1="387.4" y1="609.80" x2="673.8" y2="326.88"/>
<line x1="387.4" y1="661.24" x2="673.8" y2="481.20"/>
<line x1="387.4" y1="661.24" x2="673.8" y2="506.92"/>
<line x1="387.4" y1="686.96" x2="673.8" y2="455.48"/>
<line x1="387.4" y1="686.96" x2="673.8" y2="249.72"/>
<line x1="387.4" y1="712.68" x2="673.8" y2="95.40"/>
</g>
<circle cx="387.4" cy="43.96" r="9.6" fill="#42B6FF" stroke="#FF2D92" stroke-width="2.7"/>
<circle cx="387.4" cy="69.68" r="9.6" fill="#42B6FF" stroke="#FF2D92" stroke-width="2.7"/>
<circle cx="387.4" cy="146.84" r="9.6" fill="#42B6FF" stroke="#FF2D92" stroke-width="2.7"/>
<circle cx="387.4" cy="198.28" r="9.6" fill="#42B6FF" stroke="#FF2D92" stroke-width="2.7"/>
<circle cx="387.4" cy="249.72" r="9.6" fill="#42B6FF" stroke="#FF2D92" stroke-width="2.7"/>
<circle cx="387.4" cy="275.44" r="9.6" fill="#42B6FF" stroke="#FF2D92" stroke-width="2.7"/>
<circle cx="387.4" cy="301.16" r="9.6" fill="#42B6FF" stroke="#FF2D92" stroke-width="2.7"/>
<circle cx="387.4" cy="404.04" r="9.6" fill="#42B6FF" stroke="#FF2D92" stroke-width="2.7"/>
<circle cx="387.4" cy="429.76" r="9.6" fill="#42B6FF" stroke="#FF2D92" stroke-width="2.7"/>
<circle cx="387.4" cy="558.36" r="9.6" fill="#42B6FF" stroke="#FF2D92" stroke-width="2.7"/>
<circle cx="387.4" cy="584.08" r="9.6" fill="#42B6FF" stroke="#FF2D92" stroke-width="2.7"/>
<circle cx="387.4" cy="609.80" r="9.6" fill="#42B6FF" stroke="#FF2D92" stroke-width="2.7"/>
<circle cx="387.4" cy="661.24" r="9.6" fill="#42B6FF" stroke="#FF2D92" stroke-width="2.7"/>
<circle cx="387.4" cy="686.96" r="9.6" fill="#42B6FF" stroke="#FF2D92" stroke-width="2.7"/>
<circle cx="387.4" cy="712.68" r="9.6" fill="#42B6FF" stroke="#FF2D92" stroke-width="2.7"/>
<circle cx="673.8" cy="69.68" r="9.6" fill="#FF2D92" stroke="#45B5FF" stroke-width="2.7"/>
<circle cx="673.8" cy="95.40" r="9.6" fill="#FF2D92" stroke="#45B5FF" stroke-width="2.7"/>
<circle cx="673.8" cy="146.84" r="9.6" fill="#FF2D92" stroke="#45B5FF" stroke-width="2.7"/>
<circle cx="673.8" cy="249.72" r="9.6" fill="#FF2D92" stroke="#45B5FF" stroke-width="2.7"/>
<circle cx="673.8" cy="326.88" r="9.6" fill="#FF2D92" stroke="#45B5FF" stroke-width="2.7"/>
<circle cx="673.8" cy="352.60" r="9.6" fill="#FF2D92" stroke="#45B5FF" stroke-width="2.7"/>
<circle cx="673.8" cy="429.76" r="9.6" fill="#FF2D92" stroke="#45B5FF" stroke-width="2.7"/>
<circle cx="673.8" cy="455.48" r="9.6" fill="#FF2D92" stroke="#45B5FF" stroke-width="2.7"/>
<circle cx="673.8" cy="481.20" r="9.6" fill="#FF2D92" stroke="#45B5FF" stroke-width="2.7"/>
<circle cx="673.8" cy="506.92" r="9.6" fill="#FF2D92" stroke="#45B5FF" stroke-width="2.7"/>
<circle cx="673.8" cy="558.36" r="9.6" fill="#FF2D92" stroke="#45B5FF" stroke-width="2.7"/>
<circle cx="673.8" cy="661.24" r="9.6" fill="#FF2D92" stroke="#45B5FF" stroke-width="2.7"/>
<circle cx="673.8" cy="686.96" r="9.6" fill="#FF2D92" stroke="#45B5FF" stroke-width="2.7"/>
<circle cx="673.8" cy="712.68" r="9.6" fill="#FF2D92" stroke="#45B5FF" stroke-width="2.7"/>
<g font-size="16.3" fill="#000">
<text transform="translate(51.76,743.10) rotate(45)">Naive CD4 T</text>
<text transform="translate(77.48,743.10) rotate(45)">Memory CD4 T</text>
<text transform="translate(103.20,743.10) rotate(45)">CD14+ Mono</text>
<text transform="translate(128.92,743.10) rotate(45)">B</text>
<text transform="translate(154.64,743.10) rotate(45)">CD8 T</text>
<text transform="translate(180.36,743.10) rotate(45)">FCGR3A+ Mono</text>
<text transform="translate(206.08,743.10) rotate(45)">NK</text>
<text transform="translate(231.80,743.10) rotate(45)">DC</text>
<text transform="translate(257.52,743.10) rotate(45)">Platelet</text>
<text transform="translate(798.26,743.10) rotate(45)">Naive CD4 T</text>
<text transform="translate(823.98,743.10) rotate(45)">Memory CD4 T</text>
<text transform="translate(849.70,743.10) rotate(45)">CD14+ Mono</text>
<text transform="translate(875.42,743.10) rotate(45)">B</text>
<text transform="translate(901.14,743.10) rotate(45)">CD8 T</text>
<text transform="translate(926.86,743.10) rotate(45)">FCGR3A+ Mono</text>
<text transform="translate(952.58,743.10) rotate(45)">NK</text>
<text transform="translate(978.30,743.10) rotate(45)">DC</text>
<text transform="translate(1004.02,743.10) rotate(45)">Platelet</text>
</g>
<rect x="446.8" y="767.0" width="164" height="22" fill="url(#cb)" stroke="#000" stroke-width="1.5"/>
<line x1="446.8" y1="789" x2="446.8" y2="794.5" stroke="#000" stroke-width="1.5"/>
<text x="447.3" y="810" font-size="14.3" text-anchor="middle">-1.45</text>
<line x1="487.8" y1="789" x2="487.8" y2="794.5" stroke="#000" stroke-width="1.5"/>
<text x="488.3" y="810" font-size="14.3" text-anchor="middle">-0.37</text>
<line x1="528.8" y1="789" x2="528.8" y2="794.5" stroke="#000" stroke-width="1.5"/>
<text x="530.2" y="810" font-size="14.3" text-anchor="middle">0.70</text>
<line x1="569.8" y1="789" x2="569.8" y2="794.5" stroke="#000" stroke-width="1.5"/>
<text x="572.2" y="810" font-size="14.3" text-anchor="middle">1.78</text>
<line x1="610.8" y1="789" x2="610.8" y2="794.5" stroke="#000" stroke-width="1.5"/>
<text x="613.4" y="810" font-size="14.3" text-anchor="middle">2.85</text>
<g fill="#fff" fill-opacity="0.82" stroke="#9a9a9a" stroke-width="0.9">
<path d="M866.5 804 A12 11.5 0 1 1 887 812 L885 812 Q878 816 871.5 818 L873 813.5 Q866.5 810 866.5 804 Z"/>
<path d="M882 812.5 A13 12 0 1 1 904 821 L904.5 825.5 L899 822.5 Q888 826 882 812.5 Z"/>
</g>
<g fill="none" stroke="#8a8a8a" stroke-width="0.9"><path d="M873.5 799 a1.6 1.6 0 0 1 3.2 0"/><path d="M885.5 799 a1.6 1.6 0 0 1 3.2 0"/><path d="M898.5 808.5 a1.6 1.6 0 0 1 3.2 0"/></g>
<circle cx="890.8" cy="808.3" r="1.2" fill="#333"/>
<g transform="translate(915.5,797.5)" fill="none" stroke-linecap="square"><path d="M3 2.5H21 M7.5 0V11 M16.5 0V11 M7.5 5.2H16.5 M7.5 8.2H16.5 M1 11H23 M8.5 11L2.5 16.5 M15.5 11L21.5 16.5 M6 16.5H18 M12 13.5V22 M3 22.5H21" transform="translate(-0.4,0.5)" stroke="#8e8e8e" stroke-width="2.4"/><path d="M3 2.5H21 M7.5 0V11 M16.5 0V11 M7.5 5.2H16.5 M7.5 8.2H16.5 M1 11H23 M8.5 11L2.5 16.5 M15.5 11L21.5 16.5 M6 16.5H18 M12 13.5V22 M3 22.5H21" stroke="#ffffff" stroke-width="1.5"/></g>
<g transform="translate(941.0,797.5)" fill="none" stroke-linecap="square"><path d="M3 1.5L5.5 4 M1.5 8.5H5.5V18 M1 22.5Q4 18.5 7 20.5Q9 22 24 22 M9.5 6H21V17H9.5Z M15.25 0.5V17 M9.5 11.5H21" transform="translate(-0.4,0.5)" stroke="#8e8e8e" stroke-width="2.4"/><path d="M3 1.5L5.5 4 M1.5 8.5H5.5V18 M1 22.5Q4 18.5 7 20.5Q9 22 24 22 M9.5 6H21V17H9.5Z M15.25 0.5V17 M9.5 11.5H21" stroke="#ffffff" stroke-width="1.5"/></g>
<g transform="translate(967.5,797.5)" fill="none" stroke-linecap="square"><path d="M12 0L9.5 2.5 M4.5 2.5V12 M4.5 2.5H19.5V12 M7.5 7H16.5 M12 3.5V12 M8.5 4.5L10 6 M15.5 4.5L14 6 M9.5 8L8 10.5 M14.5 8L16 10.5 M1 14.5H23 M12 12Q11 19 2 23.5 M13 15.5Q17 21 23 23" transform="translate(-0.4,0.5)" stroke="#8e8e8e" stroke-width="2.4"/><path d="M12 0L9.5 2.5 M4.5 2.5V12 M4.5 2.5H19.5V12 M7.5 7H16.5 M12 3.5V12 M8.5 4.5L10 6 M15.5 4.5L14 6 M9.5 8L8 10.5 M14.5 8L16 10.5 M1 14.5H23 M12 12Q11 19 2 23.5 M13 15.5Q17 21 23 23" stroke="#ffffff" stroke-width="1.5"/></g>
<g transform="translate(993.5,797.5)" fill="none" stroke-linecap="square"><path d="M7.5 0.5Q6 5 3 8 M5.5 5.5H21 M6.5 12.5H19 M12.5 0V21.5 M2 21.5H22.5" transform="translate(-0.4,0.5)" stroke="#8e8e8e" stroke-width="2.4"/><path d="M7.5 0.5Q6 5 3 8 M5.5 5.5H21 M6.5 12.5H19 M12.5 0V21.5 M2 21.5H22.5" stroke="#ffffff" stroke-width="1.5"/></g>
<g transform="translate(1019.0,797.5)" fill="none" stroke-linecap="square"><path d="M3.5 1.5L2 6.5 M1 6.5H9.5 M5.5 0V23.5 M1 17L9.5 12.5 M13.5 0L10.5 7 M12 5H22.5Q22.5 18 21.5 21.5Q20.5 23 18 22 M15.5 8Q14.5 14 11 18 M18.5 8Q17.5 16 13 21" transform="translate(-0.4,0.5)" stroke="#8e8e8e" stroke-width="2.4"/><path d="M3.5 1.5L2 6.5 M1 6.5H9.5 M5.5 0V23.5 M1 17L9.5 12.5 M13.5 0L10.5 7 M12 5H22.5Q22.5 18 21.5 21.5Q20.5 23 18 22 M15.5 8Q14.5 14 11 18 M18.5 8Q17.5 16 13 21" stroke="#ffffff" stroke-width="1.5"/></g>
</svg></body></html>
